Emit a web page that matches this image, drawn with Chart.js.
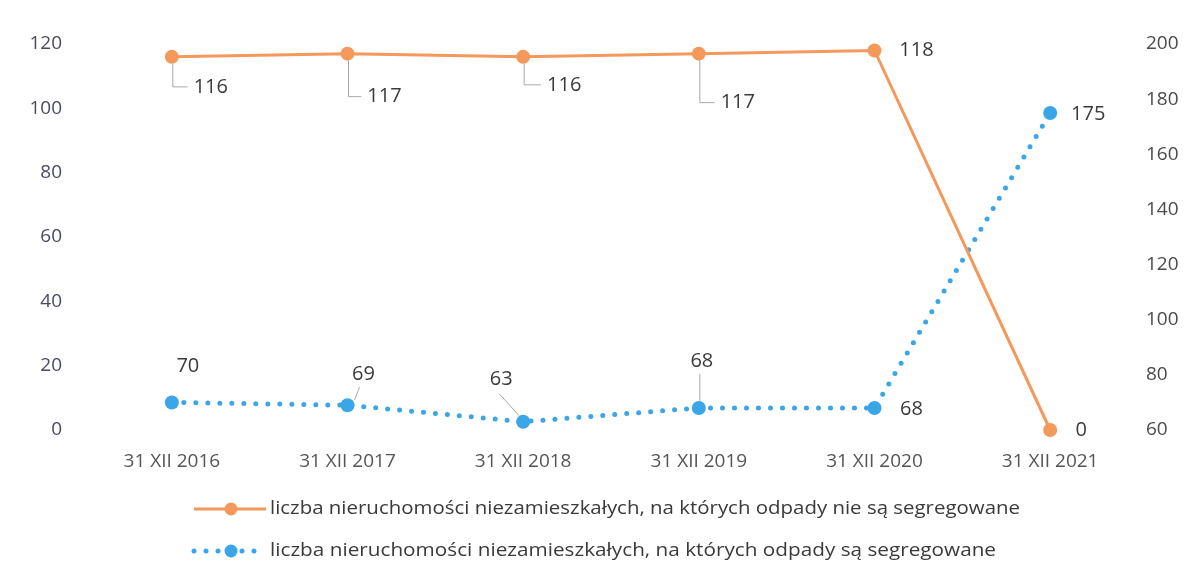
<!DOCTYPE html>
<html>
<head>
<meta charset="utf-8">
<script src="https://cdn.jsdelivr.net/npm/chart.js@4"></script>
<style>
html,body{margin:0;padding:0;background:#fff;}
#wrap{width:1196px;height:578px;position:relative;}
</style>
</head>
<body>
<div id="wrap"><canvas id="c" width="1196" height="578"></canvas></div>
<script>
const categories = ['31 XII 2016','31 XII 2017','31 XII 2018','31 XII 2019','31 XII 2020','31 XII 2021'];
const notSegregated = [116, 117, 116, 117, 118, 0];
const segregated = [70, 69, 63, 68, 68, 175];
const seriesNames = [
  'liczba nieruchomości niezamieszkałych, na których odpady nie są segregowane',
  'liczba nieruchomości niezamieszkałych, na których odpady są segregowane'
];
const leftTicks = [0, 20, 40, 60, 80, 100, 120];
const rightTicks = [60, 80, 100, 120, 140, 160, 180, 200];

const ORANGE = '#F4985C';
const BLUE = '#3AA6E8';
const FONT = "'Open Sans', 'DejaVu Sans', sans-serif";

// label placement: [dx, dy, leader]  leader: 'elbow' | 'line' | 'vline' | null
const orangeLabelPos = [[39,30,'elbow'],[37,43,'elbow'],[41,28,'elbow'],[39,49,'elbow'],[42,0,null],[31,0,null]];
const blueLabelPos = [[16,-36,null],[16,-31,'line'],[-22,-42,'line'],[3,-47,'vline'],[37,1,null],[38,1,null]];

const labelPlugin = {
  id: 'labels',
  afterDatasetsDraw(chart) {
    const ctx = chart.ctx;
    ctx.save();
    ctx.font = '20px ' + FONT;
    ctx.fillStyle = '#3a3a3a';
    ctx.textAlign = 'center';
    ctx.textBaseline = 'middle';
    const sets = [[0, notSegregated, orangeLabelPos],[1, segregated, blueLabelPos]];
    sets.forEach(([di, vals, pos]) => {
      const meta = chart.getDatasetMeta(di);
      meta.data.forEach((pt, i) => {
        const [dx, dy, leader] = pos[i];
        const lx = pt.x + dx, ly = pt.y + dy;
        const txt = String(vals[i]);
        const w = ctx.measureText(txt).width;
        ctx.strokeStyle = '#a8a8a8';
        ctx.lineWidth = 1;
        if (leader === 'elbow') {
          ctx.beginPath();
          ctx.moveTo(pt.x + 1, pt.y + 7);
          ctx.lineTo(pt.x + 1, ly);
          ctx.lineTo(lx - w/2 - 6, ly);
          ctx.stroke();
        } else if (leader === 'line') {
          ctx.beginPath();
          if (dx > 0) { ctx.moveTo(pt.x + 7, pt.y - 5); ctx.lineTo(lx - 4, ly + 13); }
          else { ctx.moveTo(pt.x - 4, pt.y - 6); ctx.lineTo(lx - 2, ly + 14); }
          ctx.stroke();
        } else if (leader === 'vline') {
          ctx.beginPath();
          ctx.moveTo(pt.x + 1, pt.y - 7);
          ctx.lineTo(pt.x + 1, ly + 13);
          ctx.stroke();
        }
        ctx.fillText(txt, lx, ly);
      });
    });
    ctx.restore();
  }
};

const legendPlugin = {
  id: 'customLegend',
  afterDraw(chart) {
    const ctx = chart.ctx;
    ctx.save();
    const rows = [
      {y: 509, color: ORANGE, dotted: false, text: seriesNames[0], width: 750},
      {y: 551, color: BLUE, dotted: true, text: seriesNames[1], width: 726}
    ];
    rows.forEach(r => {
      const x0 = 194, x1 = 266, cx = 231;
      ctx.strokeStyle = r.color;
      ctx.fillStyle = r.color;
      if (r.dotted) {
        ctx.lineWidth = 5;
        ctx.lineCap = 'round';
        ctx.setLineDash([0, 12]);
      } else {
        ctx.lineWidth = 3;
        ctx.lineCap = 'butt';
        ctx.setLineDash([]);
      }
      ctx.beginPath();
      ctx.moveTo(x0, r.y); ctx.lineTo(x1, r.y); ctx.stroke();
      ctx.setLineDash([]);
      ctx.beginPath(); ctx.arc(cx, r.y, 6.5, 0, Math.PI*2); ctx.fill();
      ctx.font = '18px ' + FONT;
      ctx.fillStyle = '#3a3a3a';
      ctx.textAlign = 'left';
      ctx.textBaseline = 'middle';
      const mw = ctx.measureText(r.text).width;
      ctx.save();
      ctx.translate(270, r.y);
      ctx.scale(r.width / mw, 1);
      ctx.fillText(r.text, 0, 0);
      ctx.restore();
    });
    ctx.restore();
  }
};

new Chart(document.getElementById('c'), {
  type: 'line',
  data: {
    labels: categories,
    datasets: [
      {
        label: seriesNames[0],
        data: notSegregated,
        yAxisID: 'y',
        borderColor: ORANGE,
        backgroundColor: ORANGE,
        borderWidth: 3,
        pointRadius: 7,
        pointHoverRadius: 7,
        pointBorderWidth: 0,
        tension: 0,
        clip: false
      },
      {
        label: seriesNames[1],
        data: segregated,
        yAxisID: 'y1',
        borderColor: BLUE,
        backgroundColor: BLUE,
        borderWidth: 5,
        borderCapStyle: 'round',
        borderDash: [0, 12],
        pointRadius: 7,
        pointHoverRadius: 7,
        pointBorderWidth: 0,
        tension: 0,
        clip: false
      }
    ]
  },
  options: {
    responsive: false,
    animation: false,
    layout: {padding: {top: 44, bottom: 90, left: 0, right: 0}},
    plugins: {
      legend: {display: false},
      tooltip: {enabled: false}
    },
    scales: {
      x: {
        offset: true,
        grid: {display: false, drawTicks: false},
        border: {display: false},
        ticks: {color: '#555', font: {family: FONT, size: 19}, padding: 20, maxRotation: 0},
        afterFit(s) { s.height = 58; }
      },
      y: {
        position: 'left',
        min: 0, max: 120,
        afterBuildTicks(s) { s.ticks = leftTicks.map(v => ({value: v})); },
        grid: {display: false, drawTicks: false},
        border: {display: false},
        ticks: {color: '#4a4a62', font: {family: FONT, size: 19}, padding: 22},
        afterFit(s) { s.width = 84; }
      },
      y1: {
        position: 'right',
        min: 60, max: 200,
        afterBuildTicks(s) { s.ticks = rightTicks.map(v => ({value: v})); },
        grid: {display: false, drawTicks: false},
        border: {display: false},
        ticks: {color: '#4a4a4a', font: {family: FONT, size: 19}, padding: 8},
        afterFit(s) { s.width = 58; }
      }
    }
  },
  plugins: [labelPlugin, legendPlugin]
});
</script>
</body>
</html>
